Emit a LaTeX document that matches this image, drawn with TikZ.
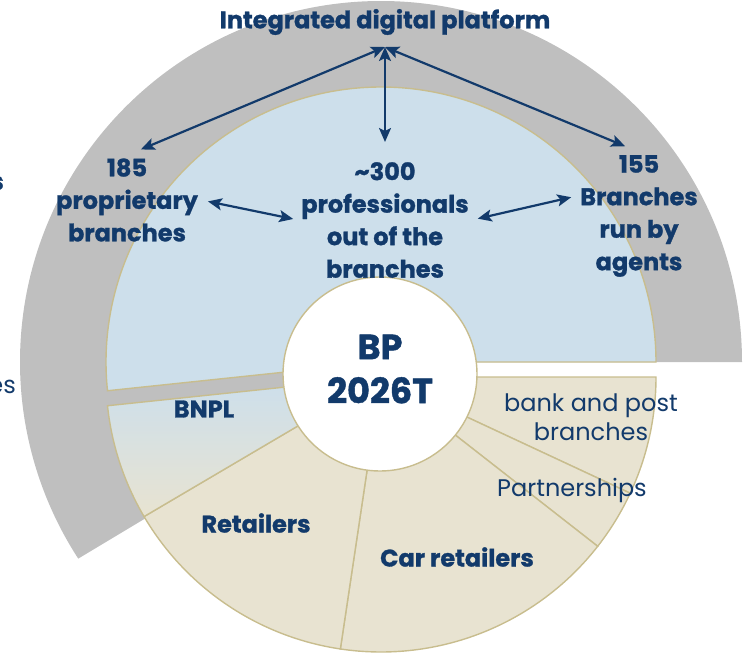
\documentclass[tikz,border=0pt]{standalone}
\usepackage{fontspec}
\setmainfont{Poppins}[BoldFeatures={FakeBold=1.2}]
\usetikzlibrary{arrows.meta, calc}
\definecolor{Navy}{HTML}{123A6B}
\definecolor{PaleBlue}{HTML}{CDDFEB}
\definecolor{Sand}{HTML}{E8E3D1}
\definecolor{Gold}{HTML}{C8BD8E}
\definecolor{Ash}{HTML}{BFBFBF}

% ring segment around a centre, from angle #2 to angle #3
\newcommand{\ringseg}[3]{($(#1)+(#2:60)$) -- ($(#1)+(#2:275)$) arc[start angle=#2, end angle=#3, radius=275] -- ($(#1)+(#3:60)$) arc[start angle=#3, end angle=#2, radius=60] -- cycle}

\begin{document}
\begin{tikzpicture}[x=1pt, y=1pt, >={Stealth[length=14pt, width=12pt, inset=3pt]},
    seg/.style={draw=Gold, line width=1.4pt},
    boldtxt/.style={Navy, align=center, inner sep=3pt, font=\fontsize{24}{32.5}\selectfont\bfseries},
    thintxt/.style={Navy, align=center, inner sep=3pt, font=\fontsize{24}{29}\selectfont},
    dblarrow/.style={<->, Navy, line width=2.2pt}]
    \useasboundingbox (0,0) rectangle (748,-654);

    % Centres of the upper (blue) and lower (sand) halves
    \coordinate (cb) at (381,-362);
    \coordinate (cg) at (381,-377);
    \coordinate (hub) at (385,-47);

    % Grey outer band
    \fill[Ash] (cb) -- ($(cb)+(0:361)$) arc[start angle=0, end angle=213, radius=361] -- (cg) -- cycle;

    % Upper half: branches
    \filldraw[seg, fill=PaleBlue] \ringseg{cb}{0}{186};

    % Lower half: partners
    \foreach \a/\b in {0/-25, -25/-38, -38/-98.5, -98.5/-149.5}
        \filldraw[seg, fill=Sand] \ringseg{cg}{\a}{\b};
    \shade[top color=PaleBlue, bottom color=Sand] \ringseg{cg}{-149.5}{-174};
    \draw[seg] \ringseg{cg}{-149.5}{-174};

    % Hole
    \node[circle, draw=Gold, line width=1.4pt, fill=white, minimum size=194pt, inner sep=0pt] (core) at (380,-374) {};
    \node[boldtxt, font=\fontsize{35}{44}\selectfont\bfseries] (bp) at (380,-369) {BP\\2026T};

    % Labels
    \node[boldtxt] (title) at (385,-22) {Integrated digital platform};
    \node[boldtxt] (n185) at (127,-200) {185\\proprietary\\branches};
    \node[boldtxt] (n300) at (385,-220) {\textasciitilde300\\professionals\\out of the\\branches};
    \node[boldtxt] (n155) at (639,-216) {155\\Branches\\run by\\agents};
    \node[boldtxt] (bnpl) at (204,-409) {BNPL};
    \node[boldtxt] (retail) at (256,-523) {Retailers};
    \node[boldtxt] (cars) at (457,-557) {Car retailers};
    \node[thintxt] (bank) at (591,-417) {bank and post\\branches};
    \node[thintxt] (partner) at (572,-490) {Partnerships};

    % Cut-off words at the left edge
    \node[boldtxt, anchor=east, inner sep=0pt] (cut1) at (4,-183) {s};
    \node[thintxt, anchor=east, inner sep=0pt] (cut2) at (16,-387) {es};

    % Arrows
    \draw[dblarrow, shorten >=15pt] (hub) -- (n185.north);
    \draw[dblarrow, shorten >=17pt] (hub) -- (n300.north);
    \draw[dblarrow, shorten >=15pt] (hub) -- (n155.north);
    \draw[dblarrow, shorten <=7pt, shorten >=5pt] (n185.east) -- (n300.west);
    \draw[dblarrow, shorten <=6pt, shorten >=6pt] (n300.east) -- (n155.162);
\end{tikzpicture}
\end{document}
